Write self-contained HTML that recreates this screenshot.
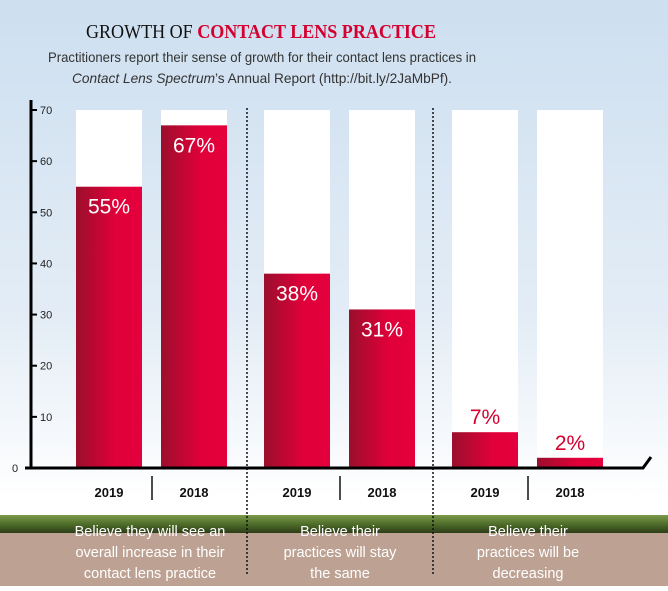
<!DOCTYPE html>
<html><head><meta charset="utf-8"><style>
html,body{margin:0;padding:0;}
body{width:668px;height:586px;overflow:hidden;font-family:"Liberation Sans",sans-serif;}
</style></head><body>
<svg id="chart" width="668" height="586" viewBox="0 0 668 586" xmlns="http://www.w3.org/2000/svg">
<defs>
<linearGradient id="sky" x1="0" y1="0" x2="0" y2="1">
<stop offset="0" stop-color="#cddff0"/><stop offset="0.55" stop-color="#e4edf6"/><stop offset="0.85" stop-color="#ffffff"/>
</linearGradient>
<linearGradient id="barg" x1="0" y1="0" x2="1" y2="0">
<stop offset="0" stop-color="#9b0f2c"/><stop offset="0.6" stop-color="#e0003a"/><stop offset="1" stop-color="#e4003c"/>
</linearGradient>
<linearGradient id="grass" x1="0" y1="0" x2="0" y2="1">
<stop offset="0" stop-color="#7d9a4a"/><stop offset="0.5" stop-color="#4f6e2a"/><stop offset="1" stop-color="#2c3d18"/>
</linearGradient>
</defs>
<rect width="668" height="586" fill="url(#sky)"/>
<rect x="0" y="515" width="668" height="18" fill="url(#grass)"/>
<rect x="0" y="533" width="668" height="53" fill="#bda293"/>
<text x="261" y="38" text-anchor="middle" font-family="Liberation Serif, serif" font-size="19.5" textLength="350" lengthAdjust="spacingAndGlyphs"><tspan fill="#111">GROWTH OF </tspan><tspan fill="#d5002f" font-weight="bold">CONTACT LENS PRACTICE</tspan></text>
<text x="262" y="62" text-anchor="middle" font-size="14" fill="#333" textLength="428" lengthAdjust="spacingAndGlyphs">Practitioners report their sense of growth for their contact lens practices in</text>
<text x="262" y="83" text-anchor="middle" font-size="14" fill="#333" textLength="380" lengthAdjust="spacingAndGlyphs"><tspan font-style="italic">Contact Lens Spectrum</tspan>’s Annual Report (http://bit.ly/2JaMbPf).</text>
<g id="marks"></g>
</svg>
<script>
const categories = ["Believe they will see an|overall increase in their|contact lens practice", "Believe their|practices will stay|the same", "Believe their|practices will be|decreasing"];
const years = ["2019", "2018"];
const values2019 = [55, 38, 7];
const values2018 = [67, 31, 2];
const yTicks = [0, 10, 20, 30, 40, 50, 60, 70];

const NS = "http://www.w3.org/2000/svg";
const g = document.getElementById("marks");
const y0 = 468, yMax = 70, ppu = 358 / 70;
function yScale(v){ return y0 - v * ppu; }
function barX(c, s){ return 76 + c * 188 + s * 85; }
const bw = 66;
function mk(tag, attrs, parent){ const e = document.createElementNS(NS, tag); for (const k in attrs) e.setAttribute(k, attrs[k]); (parent||g).appendChild(e); return e; }

let ax = mk("line", {x1:31, y1:100, x2:31, y2:y0, stroke:"#000", "stroke-width":3});


yTicks.forEach(t => {
  const y = yScale(t);
  if (t > 0) {
    const tk = mk("line", {x1:31, y1:y, x2:37, y2:y, stroke:"#000", "stroke-width":2});
    
    
  }
  const tl = mk("text", {x: t===0 ? 12 : 40, y: y+4, "font-size":11, fill:"#222"});
  tl.textContent = t;
  
  
});

[247, 433].forEach(x => {
  const d = mk("line", {x1:x, y1:108, x2:x, y2:576, stroke:"#111", "stroke-width":1.5, "stroke-dasharray":"2,2"});
  
  
});

const series = [values2019, values2018];
categories.forEach((cat, c) => {
  series.forEach((vals, s) => {
    const x = barX(c, s), v = vals[c];
    const bg = mk("rect", {x:x, y:yScale(yMax), width:bw, height:y0 - yScale(yMax), fill:"#fff"});
    
    
    const b = mk("rect", {x:x, y:yScale(v), width:bw, height:y0 - yScale(v), fill:"url(#barg)"});
    
    
    const inside = v > 20;
    const lbl = mk("text", {x:x + bw/2, y: inside ? yScale(v) + 27 : yScale(v) - 8, "text-anchor":"middle", "font-size":21, fill: inside ? "#fff" : "#d5002f"});
    lbl.textContent = v + "%";
    
    
    const yl = mk("text", {x:x + bw/2, y:497, "text-anchor":"middle", "font-size":13, "font-weight":"bold", fill:"#111"});
    yl.textContent = years[s];
    
    
  });
  const sep = mk("line", {x1:barX(c,0)+bw+10, y1:476, x2:barX(c,0)+bw+10, y2:500, stroke:"#111", "stroke-width":1.5});
  
  
  const lines = cat.split("|");
  const cx = [150,340,528][c];
  const ct = mk("text", {x:cx, y:558, "text-anchor":"middle", "font-size":14.5, fill:"#fff"});
  
  
  lines.forEach((ln, i) => { const ts = mk("tspan", {x:cx, y:557 + (i-1)*21}, ct); ts.textContent = ln; });
});

const bl = mk("path", {d:"M25 "+y0+" L643 "+y0+" L651 457", stroke:"#000", "stroke-width":3, fill:"none"});


</script>
</body></html>
